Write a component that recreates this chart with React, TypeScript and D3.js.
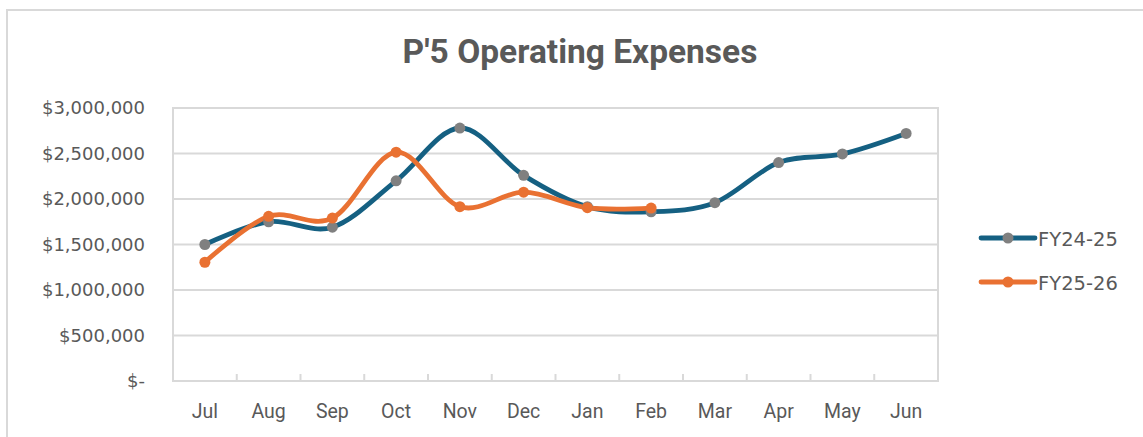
import { useEffect, useRef } from "react"
import * as d3 from "d3"

// data
const months = ["Jul", "Aug", "Sep", "Oct", "Nov", "Dec", "Jan", "Feb", "Mar", "Apr", "May", "Jun"]
const fy2425 = [1500000, 1750000, 1690000, 2200000, 2780000, 2260000, 1915000, 1860000, 1960000, 2400000, 2495000, 2720000]
const fy2526 = [1305000, 1810000, 1790000, 2515000, 1915000, 2075000, 1905000, 1900000]
const yTicks = [0, 500000, 1000000, 1500000, 2000000, 2500000, 3000000]
const seriesNames = ["FY24-25", "FY25-26"]

const W = 1143
const H = 437

export default function App() {
  const svgRef = useRef<SVGSVGElement>(null)

  useEffect(() => {
    const svg = d3.select(svgRef.current)
    svg.selectAll("*").remove()

    const margin = { top: 108, right: 205, bottom: 56, left: 173 }
    const grid = "#d9d9d9"
    const text = "#595959"
    const blue = "#156082"
    const orange = "#e97132"
    const gray = "#808080"
    const labelFont = "'DejaVu Sans', Verdana, sans-serif"

    // outer chart frame (only top/left visible)
    svg.append("rect")
      .attr("x", 7).attr("y", 10)
      .attr("width", W + 20).attr("height", H + 20)
      .attr("fill", "#fff")
      .attr("stroke", grid).attr("stroke-width", 2)

    svg.append("text")
      .attr("x", 580).attr("y", 63)
      .attr("text-anchor", "middle")
      .attr("font-family", "Roboto, sans-serif")
      .attr("font-weight", 700)
      .attr("font-size", 33.5)
      .attr("fill", text)
      .text("P'5 Operating Expenses")

    const x = d3.scaleBand()
      .domain(months)
      .range([margin.left, W - margin.right])
      .padding(0)

    const y = d3.scaleLinear()
      .domain([0, 3000000])
      .range([H - margin.bottom, margin.top])

    // gridlines
    svg.append("g")
      .selectAll("line")
      .data(yTicks)
      .join("line")
      .attr("x1", margin.left).attr("x2", W - margin.right)
      .attr("y1", d => y(d)).attr("y2", d => y(d))
      .attr("stroke", grid).attr("stroke-width", 2)

    // plot border
    svg.append("rect")
      .attr("x", margin.left).attr("y", margin.top)
      .attr("width", W - margin.right - margin.left)
      .attr("height", H - margin.bottom - margin.top)
      .attr("fill", "none")
      .attr("stroke", grid).attr("stroke-width", 2)

    // category ticks (inside)
    svg.append("g")
      .selectAll("line")
      .data(months.slice(1))
      .join("line")
      .attr("x1", d => x(d)!).attr("x2", d => x(d)!)
      .attr("y1", y(0)).attr("y2", y(0) - 7)
      .attr("stroke", grid).attr("stroke-width", 2)

    const fmt = d3.format("$,.0f")
    svg.append("g")
      .selectAll("text")
      .data(yTicks)
      .join("text")
      .attr("x", 145)
      .attr("y", d => y(d))
      .attr("dy", "0.36em")
      .attr("text-anchor", "end")
      .attr("font-family", labelFont)
      .attr("font-size", 18)
      .attr("fill", text)
      .text(d => (d === 0 ? "$-" : fmt(d)))

    svg.append("g")
      .selectAll("text")
      .data(months)
      .join("text")
      .attr("x", d => x(d)! + x.bandwidth() / 2)
      .attr("y", 418)
      .attr("text-anchor", "middle")
      .attr("font-family", "Roboto, sans-serif")
      .attr("font-size", 19.5)
      .attr("fill", text)
      .text(d => d)

    const line = d3.line<number>()
      .x((_, i) => x(months[i])! + x.bandwidth() / 2)
      .y(d => y(d))
      .curve(d3.curveCatmullRom.alpha(0))

    const series = [
      { values: fy2425, stroke: blue, marker: gray },
      { values: fy2526, stroke: orange, marker: orange },
    ]

    series.forEach(s => {
      svg.append("path")
        .datum(s.values)
        .attr("fill", "none")
        .attr("stroke", s.stroke)
        .attr("stroke-width", 4.8)
        .attr("stroke-linecap", "round")
        .attr("d", line)
    })
    series.forEach(s => {
      svg.append("g")
        .selectAll("circle")
        .data(s.values)
        .join("circle")
        .attr("cx", (_, i) => x(months[i])! + x.bandwidth() / 2)
        .attr("cy", d => y(d))
        .attr("r", 5.5)
        .attr("fill", s.marker)
    })

    // legend
    const legendY = [238, 282]
    series.forEach((s, i) => {
      const g = svg.append("g")
      g.append("line")
        .attr("x1", 981).attr("x2", 1035)
        .attr("y1", legendY[i]).attr("y2", legendY[i])
        .attr("stroke", s.stroke).attr("stroke-width", 4.8)
        .attr("stroke-linecap", "round")
      g.append("circle")
        .attr("cx", 1008).attr("cy", legendY[i])
        .attr("r", 5.5).attr("fill", s.marker)
      g.append("text")
        .attr("x", 1038).attr("y", legendY[i] + 1)
        .attr("dy", "0.36em")
        .attr("font-family", labelFont)
        .attr("font-size", 19.5)
        .attr("fill", text)
        .text(seriesNames[i])
    })
  }, [])

  return (
    <svg
      ref={svgRef}
      width={W}
      height={H}
      style={{ position: "absolute", left: 0, top: 0, background: "#fff" }}
    />
  )
}
